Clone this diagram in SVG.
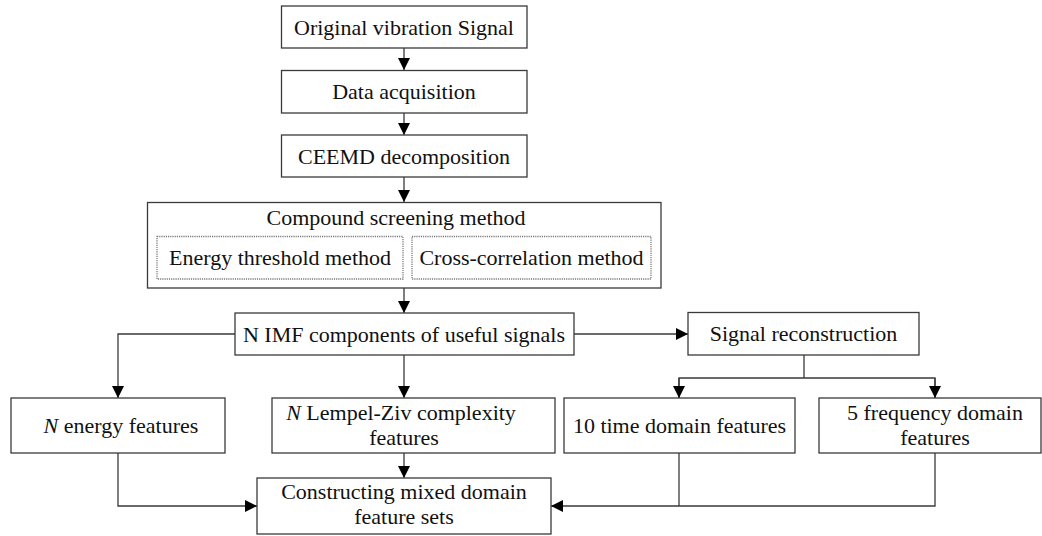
<svg xmlns="http://www.w3.org/2000/svg" width="1042" height="536" viewBox="0 0 1042 536">
<style>
.box{fill:#fff;stroke:#3a3a3a;stroke-width:1.3}
.dot{fill:none;stroke:#7a7a7a;stroke-width:1.3;stroke-dasharray:1.2 1}
.t{font-family:"Liberation Serif","Times New Roman",serif;font-size:22px;fill:#111;text-anchor:middle}
.ln{fill:none;stroke:#3a3a3a;stroke-width:1.3}
</style>
<defs>
<marker id="ah" markerUnits="userSpaceOnUse" markerWidth="13" markerHeight="12" refX="12" refY="6" orient="auto">
<path d="M0,0 L12,6 L0,12 z" fill="#000"/>
</marker>
</defs>
<rect width="1042" height="536" fill="#fff"/>
<g id="connectors">
<line class="ln" x1="404" y1="48" x2="404" y2="70" marker-end="url(#ah)"/>
<line class="ln" x1="404" y1="113" x2="404" y2="135" marker-end="url(#ah)"/>
<line class="ln" x1="404" y1="177" x2="404" y2="202" marker-end="url(#ah)"/>
<line class="ln" x1="404" y1="288" x2="404" y2="313" marker-end="url(#ah)"/>
<polyline class="ln" points="235,334 118,334 118,398" marker-end="url(#ah)"/>
<line class="ln" x1="404" y1="355" x2="404" y2="398" marker-end="url(#ah)"/>
<line class="ln" x1="574" y1="334" x2="688" y2="334" marker-end="url(#ah)"/>
<line class="ln" x1="804" y1="355" x2="804" y2="378"/>
<polyline class="ln" points="679,398 679,378 935,378 935,398" stroke-linejoin="miter"/>
<line class="ln" x1="679" y1="378" x2="679" y2="398" marker-end="url(#ah)"/>
<line class="ln" x1="935" y1="378" x2="935" y2="398" marker-end="url(#ah)"/>
<line class="ln" x1="404" y1="453" x2="404" y2="478" marker-end="url(#ah)"/>
<polyline class="ln" points="118,453 118,506 257,506" marker-end="url(#ah)"/>
<line class="ln" x1="679" y1="453" x2="679" y2="506"/>
<polyline class="ln" points="935,453 935,506 551,506" marker-end="url(#ah)"/>
</g>
<g id="n1"><rect class="box" x="281.5" y="6" width="245.5" height="42"/><text class="t" x="404" y="34.5">Original vibration Signal</text></g>
<g id="n2"><rect class="box" x="281.5" y="70.5" width="245.5" height="42.5"/><text class="t" x="404" y="99">Data acquisition</text></g>
<g id="n3"><rect class="box" x="281.5" y="135" width="245.5" height="42"/><text class="t" x="404" y="163.5">CEEMD decomposition</text></g>
<g id="n4"><rect class="box" x="147.5" y="202.5" width="513.5" height="85.5"/><text class="t" x="396" y="225">Compound screening method</text>
<rect class="dot" x="157" y="236.5" width="246" height="42.5"/><text class="t" x="280" y="264.5">Energy threshold method</text>
<rect class="dot" x="412" y="236.5" width="239" height="42.5"/><text class="t" x="531.5" y="264.5">Cross-correlation method</text></g>
<g id="n5"><rect class="box" x="235" y="313" width="339" height="42"/><text class="t" x="404" y="341.5">N IMF components of useful signals</text></g>
<g id="n6"><rect class="box" x="688" y="312.5" width="231" height="42.5"/><text class="t" x="803.5" y="341">Signal reconstruction</text></g>
<g id="n7"><rect class="box" x="11" y="398" width="214" height="55"/><text class="t" x="121" y="433"><tspan font-style="italic">N</tspan> energy features</text></g>
<g id="n8"><rect class="box" x="272" y="398" width="283" height="55"/><text class="t" x="401" y="420"><tspan font-style="italic">N</tspan> Lempel-Ziv complexity</text><text class="t" x="404" y="444.5">features</text></g>
<g id="n9"><rect class="box" x="564" y="398" width="231" height="55"/><text class="t" x="679.5" y="433">10 time domain features</text></g>
<g id="n10"><rect class="box" x="819" y="398" width="222" height="55"/><text class="t" x="935" y="420">5 frequency domain</text><text class="t" x="935" y="444.5">features</text></g>
<g id="n11"><rect class="box" x="257" y="478" width="294" height="56"/><text class="t" x="404" y="499">Constructing mixed domain</text><text class="t" x="404" y="524">feature sets</text></g>
</svg>
